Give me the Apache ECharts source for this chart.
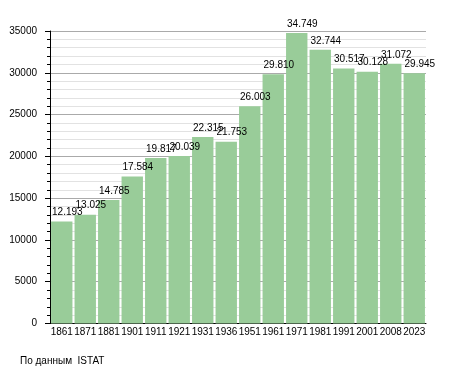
<!DOCTYPE html>
<html><head><meta charset="utf-8">
<script src="https://cdn.jsdelivr.net/npm/echarts@6/dist/echarts.min.js"></script>
<style>html,body{margin:0;padding:0;background:#fff}#c{width:455px;height:373px}</style>
</head><body><div id="c"></div>
<script>
var years = ['1861','1871','1881','1901','1911','1921','1931','1936','1951','1961','1971','1981','1991','2001','2008','2023'];
var population = [12193,13025,14785,17584,19817,20039,22315,21753,26003,29810,34749,32744,30517,30128,31072,29945];
var yTicks = [0,5000,10000,15000,20000,25000,30000,35000];
var sourceText = 'По данным  ISTAT';

function fmt(v){ return String(v).replace(/\B(?=(\d{3})+(?!\d))/g,'.'); }

var chart = echarts.init(document.getElementById('c'), null, {renderer:'canvas'});
var font = '"Liberation Sans", Arial, sans-serif';
chart.setOption({
  animation:false,
  textStyle:{fontFamily:font},
  grid:{left:50,right:29,top:31,bottom:49.5,containLabel:false},
  graphic:[{type:'text',left:20,top:356,style:{text:sourceText,font:'10px '+font,fill:'#000'}}],
  xAxis:{type:'category',data:years,
    axisLine:{lineStyle:{color:'#000',width:1}},
    axisTick:{show:false},
    axisLabel:{color:'#000',fontSize:10,fontFamily:font,margin:4,interval:0}},
  yAxis:{type:'value',min:yTicks[0],max:yTicks[yTicks.length-1],interval:5000,
    axisLine:{show:true,lineStyle:{color:'#000'}},
    axisTick:{show:true,length:5,lineStyle:{color:'#000'}},
    minorTick:{show:true,splitNumber:5,length:3,lineStyle:{color:'#000'}},
    splitLine:{show:true,lineStyle:{color:'#aaaaaa',width:1}},
    minorSplitLine:{show:true,lineStyle:{color:'#e2e2e2',width:1}},
    axisLabel:{color:'#000',fontSize:10,fontFamily:font,margin:13,
      formatter:function(v){return String(v);}}},
  series:[{type:'bar',data:population,barCategoryGap:'9%',
    itemStyle:{color:'#99cc99'},
    label:{show:true,position:[1,-14],color:'#000',fontSize:10,fontFamily:font,
      formatter:function(p){return fmt(p.value);}}}]
});
</script></body></html>
